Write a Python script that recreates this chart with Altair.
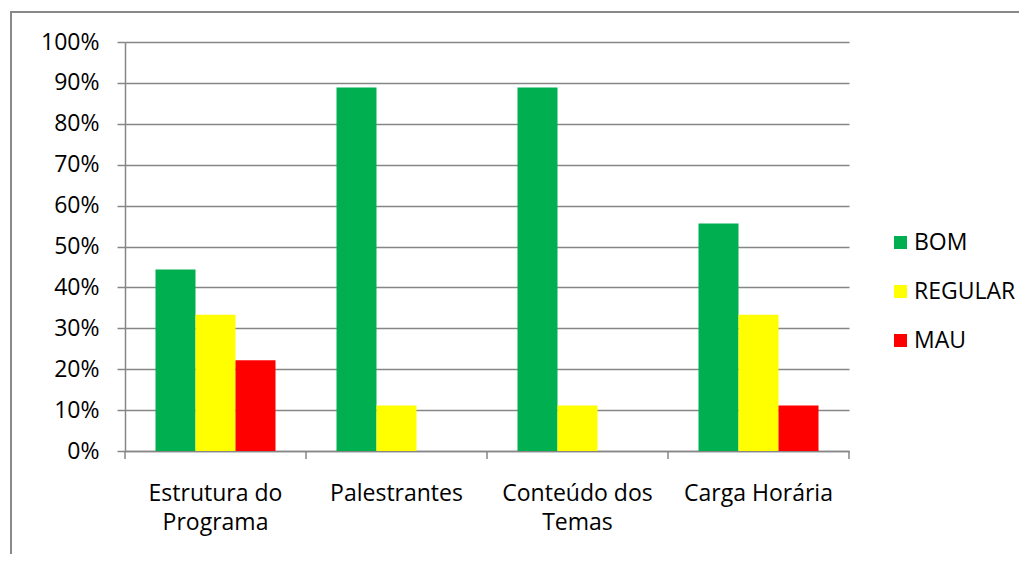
import altair as alt
import pandas as pd

categories = ["Estrutura do|Programa", "Palestrantes", "Conteúdo dos|Temas", "Carga Horária"]
series = ["BOM", "REGULAR", "MAU"]
bom = [0.444, 0.889, 0.889, 0.556]
regular = [0.333, 0.111, 0.111, 0.333]
mau = [0.222, 0.0, 0.0, 0.111]
colors = ["#00B050", "#FFFF00", "#FF0000"]
y_ticks = [i / 10 for i in range(11)]

rows = []
for s, vals in zip(series, [bom, regular, mau]):
    for c, v in zip(categories, vals):
        rows.append({"cat": c, "serie": s, "value": v})
df = pd.DataFrame(rows)

W, H = 724, 409
FONT = "Open Sans"
FS = 23
GRAY = "#868686"

bars = alt.Chart(df).mark_bar().encode(
    x=alt.X(
        "cat:N", sort=categories,
        scale=alt.Scale(paddingInner=0, paddingOuter=0),
        axis=alt.Axis(
            title=None, labelExpr="split(datum.label, '|')", labelAngle=0,
            ticks=False, domainColor=GRAY, domainWidth=1.5, labelFontSize=FS,
            labelPadding=31, labelLineHeight=29, labelColor="black",
            labelBaseline="top", labelFont=FONT,
        ),
    ),
    xOffset=alt.XOffset("serie:N", sort=series,
                        scale=alt.Scale(paddingOuter=0.7625, paddingInner=0)),
    y=alt.Y(
        "value:Q", scale=alt.Scale(domain=[0, 1]),
        axis=alt.Axis(
            title=None, values=y_ticks, format=".0%", grid=True, gridColor=GRAY,
            gridWidth=1.3, domainColor=GRAY, domainWidth=1.5, tickColor=GRAY,
            tickWidth=1.5, tickSize=8, labelFontSize=FS, labelPadding=18,
            labelColor="black", labelFont=FONT,
        ),
    ),
    color=alt.Color(
        "serie:N", sort=series, scale=alt.Scale(domain=series, range=colors),
        legend=alt.Legend(
            title=None, orient="none", legendX=764, legendY=189,
            symbolType="square", symbolSize=169, symbolStrokeWidth=0,
            labelFontSize=FS, labelFont=FONT, labelColor="black",
            rowPadding=25, labelOffset=2,
        ),
    ),
)

ticks = alt.Chart(pd.DataFrame({"cat": categories})).mark_rule(
    color=GRAY, strokeWidth=1.5
).encode(
    x=alt.X("cat:N", sort=categories, bandPosition=0),
    y=alt.value(H), y2=alt.value(H + 8),
)

end_tick = alt.Chart(pd.DataFrame({"a": [0]})).mark_rule(
    color=GRAY, strokeWidth=1.5
).encode(x=alt.value(W), y=alt.value(H), y2=alt.value(H + 8))

frame = alt.Chart(pd.DataFrame({"a": [0]})).mark_rect(
    fillOpacity=0, stroke="#898989", strokeWidth=2
).encode(
    x=alt.value(-114), y=alt.value(-30),
    x2=alt.value(W + 200), y2=alt.value(H + 200),
)

chart = alt.layer(frame, bars, ticks, end_tick).properties(
    width=W, height=H,
    autosize=alt.AutoSizeParams(type="none"),
    padding={"left": 117, "top": 34, "right": 170, "bottom": 103},
).configure_view(stroke=None)

chart.save("out.html", embed_options={"renderer": "svg", "actions": False})
